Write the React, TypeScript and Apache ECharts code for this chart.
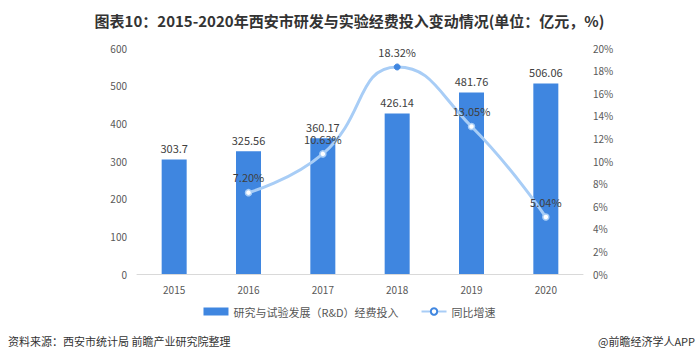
import React, { useEffect, useRef } from "react";
import * as echarts from "echarts";

const years = ["2015", "2016", "2017", "2018", "2019", "2020"];
const investment = [303.7, 325.56, 360.17, 426.14, 481.76, 506.06];
const growth: (number | null)[] = [null, 7.2, 10.63, 18.32, 13.05, 5.04];
const growthLabels = ["", "7.20%", "10.63%", "18.32%", "13.05%", "5.04%"];

export default function App() {
  const ref = useRef<HTMLDivElement>(null);
  useEffect(() => {
    const chart = echarts.init(ref.current!, null, { renderer: "svg" });
    const font = "'Microsoft YaHei', 'Noto Sans CJK SC', sans-serif";
    chart.setOption({
      animation: false,
      textStyle: { fontFamily: font },
      title: {
        text: "图表10：2015-2020年西安市研发与实验经费投入变动情况(单位：亿元，%)",
        left: "center",
        top: 8,
        textStyle: { fontSize: 15, fontWeight: "bold", color: "#333", fontFamily: font },
      },
      grid: { left: 137, right: 116, top: 48, bottom: 84 },
      legend: {
        bottom: 36,
        left: "center",
        itemGap: 22,
        itemWidth: 25,
        itemHeight: 8,
        textStyle: { fontSize: 11, color: "#555" },
        data: [
          { name: "研究与试验发展（R&D）经费投入", icon: "rect" },
          { name: "同比增速", itemStyle: { color: "#3f86e0", borderColor: "#3f86e0", borderWidth: 0 } },
        ],
      },
      xAxis: {
        type: "category",
        data: years,
        axisLine: { lineStyle: { color: "#d9d9d9" } },
        axisTick: { show: false },
        axisLabel: { color: "#595959", fontSize: 10, margin: 10 },
      },
      yAxis: [
        {
          type: "value",
          min: 0,
          max: 600,
          interval: 100,
          splitLine: { show: false },
          axisLine: { show: false },
          axisTick: { show: false },
          axisLabel: { color: "#595959", fontSize: 10, margin: 10 },
        },
        {
          type: "value",
          min: 0,
          max: 20,
          interval: 2,
          splitLine: { show: false },
          axisLine: { show: false },
          axisTick: { show: false },
          axisLabel: { color: "#595959", fontSize: 10, margin: 10, formatter: "{value}%" },
        },
      ],
      series: [
        {
          name: "研究与试验发展（R&D）经费投入",
          type: "bar",
          data: investment,
          barWidth: 25,
          itemStyle: { color: "#3f86e0" },
          label: { show: true, position: "top", color: "#404040", fontSize: 11, distance: 6 },
        },
        {
          name: "同比增速",
          type: "line",
          yAxisIndex: 1,
          smooth: true,
          data: growth.map((v, i) => ({
            value: v,
            symbol: "circle",
            itemStyle:
              i === 3
                ? { color: "#3f86e0", borderColor: "#3f86e0" }
                : { color: "#ffffff", borderColor: "#a8cdf6", borderWidth: 1.5 },
          })),
          symbolSize: 6,
          lineStyle: { color: "#a8cdf6", width: 3 },
          itemStyle: { color: "#a8cdf6" },
          label: {
            show: true,
            position: "top",
            color: "#404040",
            fontSize: 11,
            distance: 6,
            formatter: (p: any) => growthLabels[p.dataIndex],
          },
        },
      ],
      graphic: [
        {
          type: "text",
          left: 8,
          bottom: 12,
          style: { text: "资料来源：西安市统计局 前瞻产业研究院整理", fontSize: 11, fill: "#333", fontFamily: font },
        },
        {
          type: "text",
          right: 4,
          bottom: 12,
          style: { text: "@前瞻经济学人APP", fontSize: 11, fill: "#333", fontFamily: font },
        },
      ],
    });
    return () => chart.dispose();
  }, []);
  return <div ref={ref} style={{ width: 699, height: 358, position: "absolute", left: 0, top: 0 }} />;
}
